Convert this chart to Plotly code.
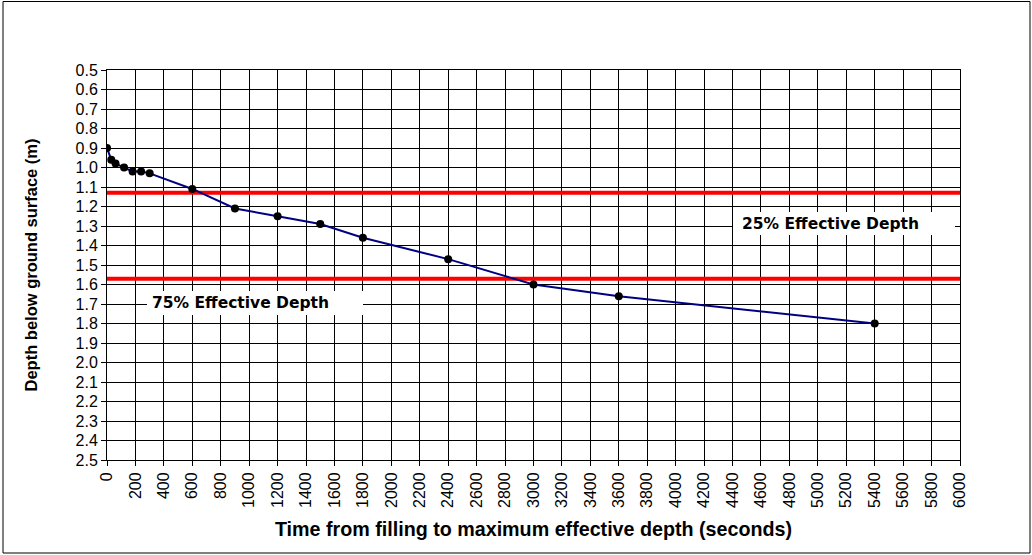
import plotly.graph_objects as go

# Data
time_s = [0, 30, 60, 120, 180, 240, 300, 600, 900, 1200, 1500, 1800, 2400, 3000, 3600, 5400]
depth_m = [0.90, 0.96, 0.98, 1.00, 1.02, 1.02, 1.03, 1.11, 1.21, 1.25, 1.29, 1.36, 1.47, 1.60, 1.66, 1.80]

ref_x = [0, 6000]
depth_25 = 1.13
depth_75 = 1.57
label_25 = "25% Effective Depth"
label_75 = "75% Effective Depth"

W, H = 1032, 555
L, R, T, B = 107, 72, 70, 95
pw, ph = W - L - R, H - T - B

def px2x(px):
    return (px - L) / pw * 6000

def px2y(py):
    return 0.5 + (py - T) / ph * 2.0

fig = go.Figure()

fig.add_trace(go.Scatter(x=ref_x, y=[depth_25, depth_25], mode="lines",
                         line=dict(color="#ff0000", width=4), hoverinfo="skip", showlegend=False))
fig.add_trace(go.Scatter(x=ref_x, y=[depth_75, depth_75], mode="lines",
                         line=dict(color="#ff0000", width=4), hoverinfo="skip", showlegend=False))
fig.add_trace(go.Scatter(x=time_s, y=depth_m, mode="lines+markers",
                         line=dict(color="#000080", width=2),
                         marker=dict(color="black", size=8),
                         showlegend=False))

# white label boxes (above gridlines, below traces)
fig.add_shape(type="rect", xref="x", yref="y", layer="between",
              x0=px2x(733), x1=px2x(955), y0=px2y(212), y1=px2y(235),
              fillcolor="white", line=dict(width=0))
fig.add_shape(type="rect", xref="x", yref="y", layer="between",
              x0=px2x(147), x1=px2x(363), y0=px2y(291), y1=px2y(315),
              fillcolor="white", line=dict(width=0))

lab_font = dict(family="DejaVu Sans", size=15.5, color="black", weight="bold")
fig.add_annotation(x=px2x(830), y=px2y(224), text="<b>" + label_25 + "</b>", showarrow=False,
                   font=lab_font, xanchor="center", yanchor="middle")
fig.add_annotation(x=px2x(240), y=px2y(303), text="<b>" + label_75 + "</b>", showarrow=False,
                   font=lab_font, xanchor="center", yanchor="middle")

# outer chart border
fig.add_shape(type="rect", xref="paper", yref="paper",
              x0=(3 - L) / pw, x1=(1030 - L) / pw,
              y0=1 - (553 - T) / ph, y1=1 - (1.5 - T) / ph,
              line=dict(color="black", width=1), fillcolor="rgba(0,0,0,0)")

fig.update_layout(
    width=W, height=H,
    margin=dict(l=L, r=R, t=T, b=B, autoexpand=False),
    paper_bgcolor="white", plot_bgcolor="white",
    font=dict(family="Liberation Sans, Arial", color="black", size=16),
)

fig.update_xaxes(
    range=[0, 6000], dtick=200, tick0=0, tickangle=-90,
    showgrid=True, gridcolor="black", gridwidth=1,
    showline=True, linecolor="black", linewidth=1, mirror=True,
    ticks="outside", ticklen=5, tickcolor="black",
    tickfont=dict(size=16),
    zeroline=False,
    title=dict(text="<b>Time from filling to maximum effective depth (seconds)</b>",
               font=dict(size=19.7), standoff=15),
)
fig.update_yaxes(
    range=[2.5, 0.5], dtick=0.1, tick0=0.5, tickformat=".1f",
    showgrid=True, gridcolor="black", gridwidth=1,
    showline=True, linecolor="black", linewidth=1, mirror=True,
    ticks="outside", ticklen=5, tickcolor="black",
    tickfont=dict(size=16),
    zeroline=False,
    title=dict(text="<b>Depth below ground surface (m)</b>", font=dict(size=16.5), standoff=33),
)

fig.write_html("out.html", config={"displayModeBar": False},
               post_script="document.body.style.margin='0';")
